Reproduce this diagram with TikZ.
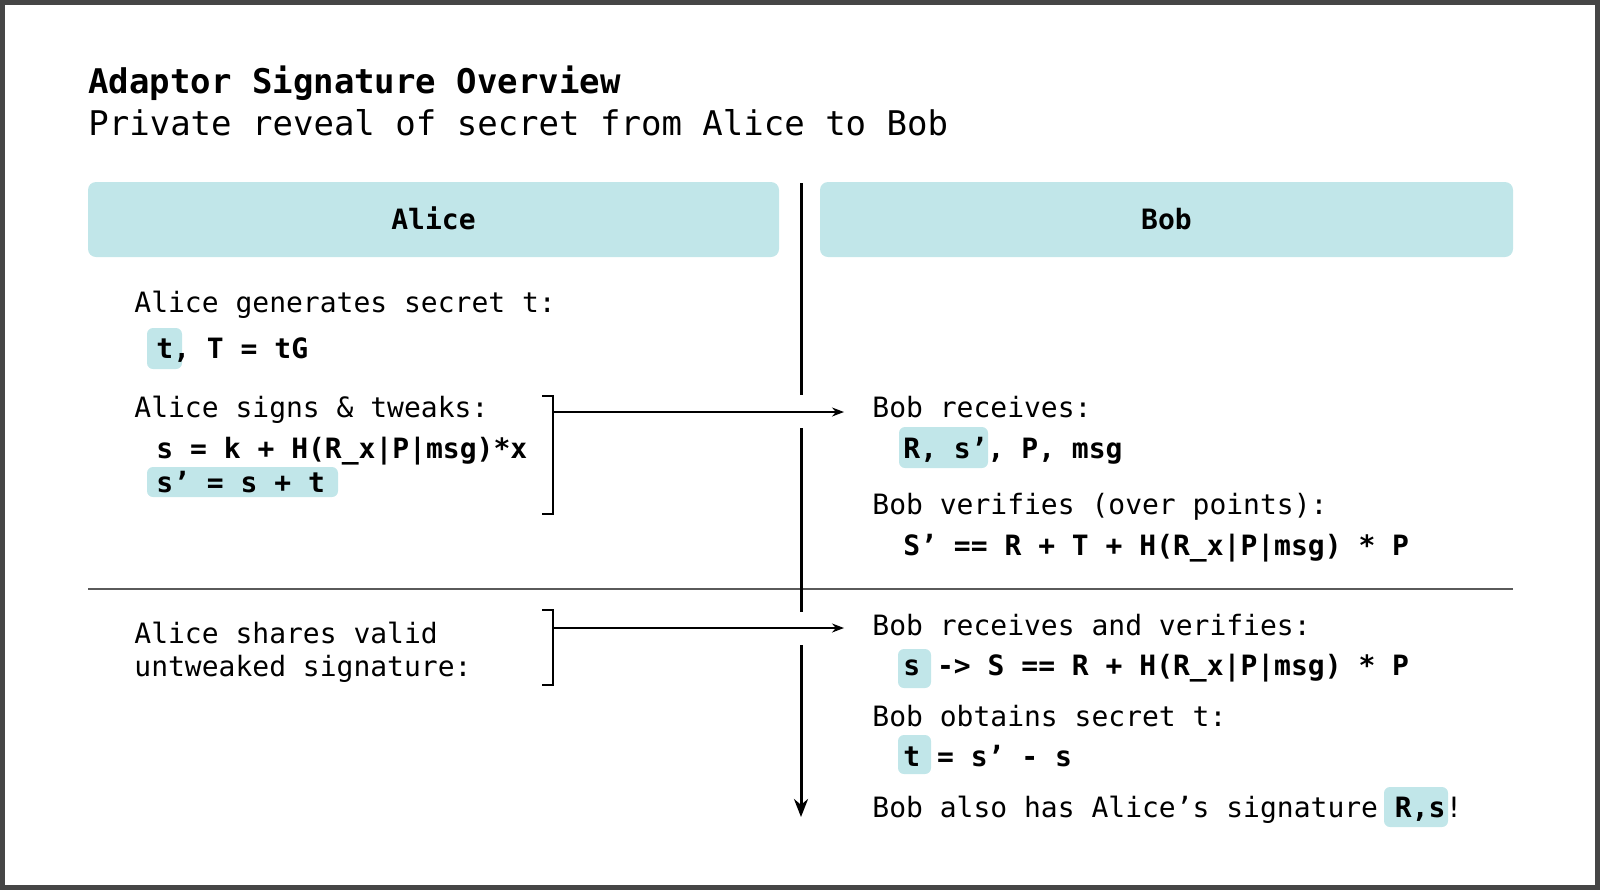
\documentclass[tikz,border=0pt]{standalone}
\usepackage{fontspec}
\usetikzlibrary{arrows.meta}
\setmainfont{DejaVu Sans Mono}
\definecolor{hlcyan}{RGB}{193,230,233}
\definecolor{framegray}{RGB}{70,70,70}
\definecolor{rulegray}{RGB}{90,90,90}

\begin{document}
\begin{tikzpicture}[x=0.5pt, y=-0.5pt,
  txt/.style={anchor=base west, inner sep=0pt, font=\fontsize{14}{17}\selectfont},
  code/.style={txt, font=\fontsize{14}{17}\selectfont\bfseries},
  head/.style={fill=hlcyan, rounded corners=4pt, minimum height=37.5pt, inner sep=0pt, font=\fontsize{14}{17}\selectfont\bfseries},
  hl/.style={fill=hlcyan, rounded corners=3pt},
  flow/.style={->, >={Stealth[length=6pt,width=4.5pt]}, line width=0.6pt},
  timeline/.style={line width=1.5pt}]

\useasboundingbox (0,0) rectangle (1600,890);

% Draw the outer frame
\draw [framegray, line width=2.5pt] (2.5,2.5) rectangle (1597.5,887);

% Title and subtitle
\node [txt, font=\fontsize{17}{20}\selectfont\bfseries] (title) at (88,93) {Adaptor Signature Overview};
\node [txt, font=\fontsize{17}{20}\selectfont] (subtitle) at (88,135) {Private reveal of secret from Alice to Bob};

% Header boxes
\node [head, minimum width=345.5pt] (aliceHead) at (433.5,219.5) {\raisebox{1pt}{Alice}};
\node [head, minimum width=346.5pt] (bobHead) at (1166.5,219.5) {\raisebox{1pt}{Bob}};

% Draw the highlights behind the values
\fill [hl] (147,328) rectangle (182,369);
\fill [hl] (147,467) rectangle (338,497);
\fill [hl] (899,427) rectangle (988,468);
\fill [hl] (898,649) rectangle (931,688);
\fill [hl] (898,735) rectangle (931,774);
\fill [hl] (1384,787) rectangle (1448,827);

% Alice side
\node [txt] (genText) at (134,312) {Alice generates secret t:};
\node [code] (keyText) at (156,358) {t, T = tG};
\node [txt] (signText) at (134,417) {Alice signs \& tweaks:};
\node [code] (sigText) at (156,458) {s = k + H(R\_x|P|msg)*x};
\node [code] (tweakText) at (156,492) {s’ = s + t};
\node [txt] (shareText) at (134,643) {Alice shares valid};
\node [txt] (shareText2) at (134,676) {untweaked signature:};

% Bob side
\node [txt] (recvText) at (872,417) {Bob receives:};
\node [code] (recvSig) at (903,458) {R, s’, P, msg};
\node [txt] (verText) at (872,514) {Bob verifies (over points):};
\node [code] (verEq) at (903,555) {S’ == R + T + H(R\_x|P|msg) * P};
\node [txt] (recv2Text) at (872,635) {Bob receives and verifies:};
\node [code] (verEq2) at (903,675) {s -> S == R + H(R\_x|P|msg) * P};
\node [txt] (obtText) at (872,726) {Bob obtains secret t:};
\node [code] (obtEq) at (903,766) {t = s’ - s};
\node [txt] (alsoText) at (872,817) {Bob also has Alice’s signature \textbf{R,s}!};

% Divider between the two rounds
\draw [rulegray, line width=0.7pt] (88,589) -- (1513,589);

% Brackets and messages from Alice to Bob
\coordinate (brSign) at (553,412);
\coordinate (toRecv) at (844,412);
\coordinate (brShare) at (553,628);
\coordinate (toRecv2) at (844,628);
\draw [line width=0.6pt] (542,396) -- (553,396) -- (553,514) -- (542,514);
\draw [line width=0.6pt] (542,610) -- (553,610) -- (553,685) -- (542,685);
\draw [flow] (brSign) -- (toRecv);
\draw [flow] (brShare) -- (toRecv2);

% Time line with gaps at the messages
\coordinate (tTop) at (801,183);
\coordinate (tEnd) at (801,817);
\draw [timeline] (tTop) -- (801,395);
\draw [timeline] (801,428) -- (801,612);
\draw [timeline, ->, >={Stealth[length=9pt,width=7pt]}] (801,645) -- (tEnd);

\end{tikzpicture}
\end{document}
